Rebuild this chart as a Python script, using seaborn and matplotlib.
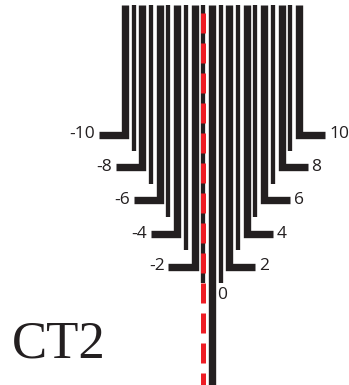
import matplotlib
matplotlib.use("Agg")
import matplotlib.pyplot as plt
import pandas as pd
import seaborn as sns

# bar positions (in bar-pitch units) and where each bar stops (depth, px from top)
offsets = [-10, -9, -8, -7, -6, -5, -4, -3, -2, -1, 0, 1, 2, 3, 4, 5, 6, 7, 8, 9, 10]
bar_ends = [134.5, 150.5, 167, 183.5, 200, 217, 233.5, 250, 266.5, 282.5, 390,
            282.5, 266.5, 250, 233.5, 217, 200, 183.5, 167, 150.5, 134.5]
bar_top = 5
stub_len = 3.0
tick_labels = {-10: "-10", -8: "-8", -6: "-6", -4: "-4", -2: "-2",
               2: "2", 4: "4", 6: "6", 8: "8", 10: "10"}
zero_label = "0"
ref_offset = -1          # red dashed reference line
ref_span = [13, 390]
title = "CT2"

sns.set_style("white")
plt.rcParams["lines.solid_capstyle"] = "butt"
plt.rcParams["lines.solid_joinstyle"] = "miter"

rows = []
for off, end in zip(offsets, bar_ends):
    kind = "thick" if off % 2 == 0 else "thin"
    pts = [(off, bar_top), (off, end)]
    if off != 0 and off % 2 == 0:
        side = 1 if off > 0 else -1
        pts.append((off + side * stub_len, end))
    for i, (x, y) in enumerate(pts):
        rows.append({"bar": off, "order": i, "x": x, "y": y, "kind": kind})
df = pd.DataFrame(rows)

fig = plt.figure(figsize=(3.49, 3.85), dpi=100)
ax = fig.add_axes([0, 0, 1, 1])

sns.lineplot(data=df, x="x", y="y", units="bar", estimator=None, sort=False,
             hue="kind", palette={"thick": "#231f20", "thin": "#231f20"},
             size="kind", sizes={"thick": 5.3, "thin": 3.1},
             legend=False, ax=ax)

ax.plot([ref_offset, ref_offset], ref_span, color="#ed1c24", lw=3.6,
        ls=(0, (4, 2)), solid_capstyle="butt", zorder=5)

lab_font = ["Open Sans", "DejaVu Sans"]
for off, end in zip(offsets, bar_ends):
    if off in tick_labels:
        side = 1 if off > 0 else -1
        ax.text(off + side * (stub_len + 0.45), end, tick_labels[off],
                ha="left" if side > 0 else "right", va="center",
                fontsize=12.5, color="#231f20", family=lab_font)
ax.text(0.6, 295, zero_label, ha="left", va="center", fontsize=12.5,
        color="#231f20", family=lab_font)

ax.text(-23.0, 357, title, ha="left", va="baseline", fontsize=38,
        color="#231f20", family=["Liberation Serif", "DejaVu Serif"])

ax.set_xlim(-24.37, 15.75)
ax.set_ylim(385, 0)
ax.set_axis_off()

fig.savefig("out.png", dpi=100)
